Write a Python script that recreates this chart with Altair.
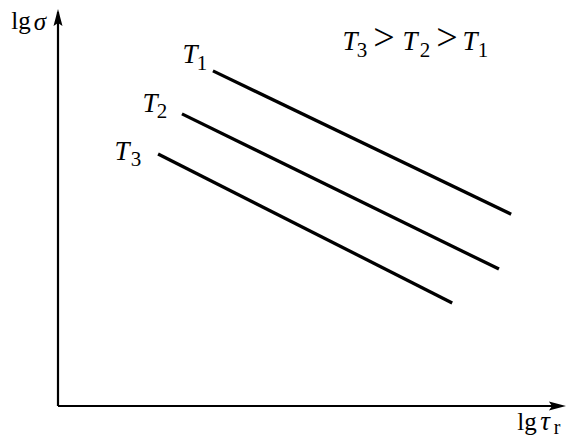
import altair as alt
import pandas as pd

# ---- data (schematic units, 0..100 on each axis) ----
series = ["T1", "T2", "T3"]
x_start = [30.5, 24.4, 19.7]
y_start = [84.2, 73.4, 63.3]
x_end = [89.2, 86.8, 77.6]
y_end = [48.2, 34.4, 25.9]

rows = []
for s, xs, ys, xe, ye in zip(series, x_start, y_start, x_end, y_end):
    rows.append({"series": s, "x": xs, "y": ys})
    rows.append({"series": s, "x": xe, "y": ye})
lines_df = pd.DataFrame(rows)

W, H = 508, 398
FONT = "Liberation Serif, DejaVu Serif, serif"
one = pd.DataFrame({"k": [0]})

xs = alt.Scale(domain=[0, 100], range=[0, W])
ys = alt.Scale(domain=[0, 100], range=[H, 0])

lines = alt.Chart(lines_df).mark_line(color="black", strokeWidth=3.3, strokeCap="butt").encode(
    x=alt.X("x:Q", scale=xs, axis=None),
    y=alt.Y("y:Q", scale=ys, axis=None),
    detail="series:N",
)

yaxis = alt.Chart(one).mark_rule(color="black", strokeWidth=2.2).encode(
    x=alt.value(0), y=alt.value(H), y2=alt.value(4)
)
xaxis = alt.Chart(one).mark_rule(color="black", strokeWidth=2.2).encode(
    x=alt.value(0), x2=alt.value(W - 4), y=alt.value(H)
)
ARROW = "M0,-1L0.5,0.9L0,0.55L-0.5,0.9Z"
r = 9
up_arrow = alt.Chart(one).mark_point(shape=ARROW, filled=True, color="black", opacity=1,
                                     size=(2 * r) ** 2, strokeWidth=0).encode(
    x=alt.value(0), y=alt.value(1 + r)
)
right_arrow = alt.Chart(one).mark_point(shape=ARROW, filled=True, color="black", opacity=1,
                                        size=(2 * r) ** 2, strokeWidth=0, angle=90).encode(
    x=alt.value(W - r), y=alt.value(H)
)


def txt(text, cx, base, italic=False, size=27):
    # cx, base given in page pixels; convert to plot coords
    return alt.Chart(one).mark_text(
        text=text, font=FONT, fontSize=size, fontStyle="italic" if italic else "normal",
        align="center", baseline="alphabetic", color="black",
    ).encode(x=alt.value(cx - 58), y=alt.value(base - 8))


texts = [
    # y axis title
    txt("lg", 21, 29, size=25),
    txt("σ", 40, 30, italic=True, size=25),
    # x axis title
    txt("lg", 527, 430, size=25),
    txt("τ", 545, 430, italic=True, size=27),
    txt("r", 557, 434, size=20),
    # series labels
    txt("T", 190, 63, italic=True), txt(series[0][1], 202, 70, size=21),
    txt("T", 150, 112, italic=True), txt(series[1][1], 162, 118, size=21),
    txt("T", 122, 160, italic=True), txt(series[2][1], 136, 166, size=21),
    # ordering note
    txt("T", 350, 50, italic=True), txt(series[2][1], 362, 57, size=21),
    txt(">", 384, 50, size=38),
    txt("T", 410, 50, italic=True), txt(series[1][1], 425, 57, size=21),
    txt(">", 447, 50, size=38),
    txt("T", 470, 50, italic=True), txt(series[0][1], 483, 57, size=21),
]

chart = alt.layer(lines, yaxis, xaxis, up_arrow, right_arrow, *texts).properties(
    width=W, height=H,
    padding={"left": 50, "top": 0, "right": 1, "bottom": 32},
    autosize=alt.AutoSizeParams(type="none"),
    background="white",
).configure_view(stroke=None)

chart.save("out.html", embed_options={"renderer": "svg", "actions": False})
